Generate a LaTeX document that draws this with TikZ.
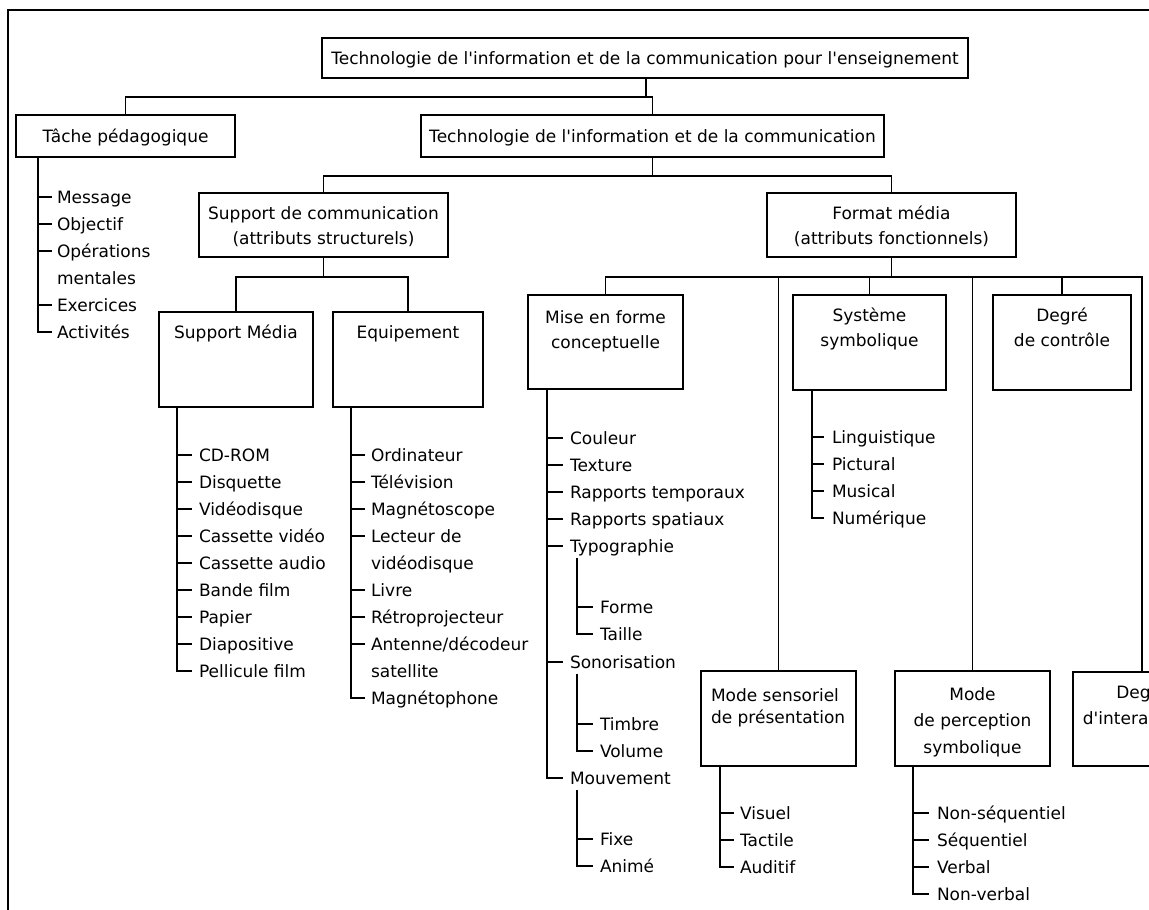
\documentclass[tikz,border=0pt]{standalone}
\usepackage{fontspec}
\setmainfont{DejaVu Sans}
\usetikzlibrary{calc}
\newcommand{\q}{\textquotesingle}
% centred box text: width, height, top gap, text
\newcommand{\bxc}[4]{\parbox[c][#2][t]{#1}{\centering\vspace*{#3}\rule{0pt}{14pt}#4\par}}
% left aligned box text: width, height, top gap, indent, text
\newcommand{\bxl}[5]{\parbox[c][#2][t]{#1}{\raggedright\leftskip=#4\vspace*{#3}\rule{0pt}{14pt}#5\par}}
\tikzset{
  box/.style={draw, line width=1.6pt, inner sep=0pt, outer sep=0pt, anchor=north west},
  item/.style={anchor=west, inner sep=0pt, outer sep=0pt, text height=12pt, text depth=0pt},
  link/.style={draw, line width=1.6pt},
  frame/.style={draw, line width=2.6pt}
}
\begin{document}
\begin{tikzpicture}[x=1pt,y=-1pt,font=\fontsize{17pt}{25pt}\selectfont]
\useasboundingbox (0,0) rectangle (1149,910);
\clip (0,0) rectangle (1149,910);
\fill[white] (0,0) rectangle (1149,910);
\draw[frame] (8,912) -- (8,10) -- (1152,10);

% ---------- boxes ----------
\node[box] (top) at (322,38) {\bxc{646pt}{40pt}{12pt}{Technologie de l\q information et de la communication pour l\q enseignement}};
\node[box] (tache) at (16,115) {\bxc{219pt}{42pt}{13pt}{Tâche pédagogique}};
\node[box] (tic) at (421,115) {\bxc{463pt}{42pt}{13pt}{Technologie de l\q information et de la communication}};
\node[box] (supcom) at (199,193) {\bxc{249pt}{64pt}{12pt}{Support de communication\\(attributs structurels)}};
\node[box] (format) at (767,193) {\bxc{249pt}{64pt}{12pt}{Format média\\(attributs fonctionnels)}};
\node[box] (supmed) at (159,312) {\bxc{154pt}{95pt}{12pt}{Support Média}};
\node[box] (equip) at (333,312) {\bxc{150pt}{95pt}{12pt}{Equipement}};
\node[box] (mise) at (528,295) {\bxc{155pt}{94pt}{14pt}{Mise en forme\\conceptuelle}};
\node[box] (syst) at (793,295) {\bxc{153pt}{95pt}{12pt}{Système\\symbolique}};
\node[box] (degctrl) at (993,295) {\bxc{138pt}{95pt}{12pt}{Degré\\de contrôle}};
\node[box] (modesens) at (701,671) {\bxl{155pt}{95pt}{16pt}{10pt}{\baselineskip=22pt Mode sensoriel\\de présentation}};
\node[box] (modeperc) at (895,671) {\bxc{155pt}{95pt}{15pt}{\baselineskip=26.5pt Mode\\de perception\\symbolique}};
\node[box] (deginter) at (1073,672) {\bxc{138pt}{94pt}{12pt}{\baselineskip=26pt Degré\\d\q interactivité}};

% ---------- tree connectors ----------
\coordinate (j1) at (646,97);
\coordinate (j2) at (0,176);
\coordinate (j3) at (0,277);
\draw[link] (j1 |- top.south) -- (j1);
\draw[link] (tache.north) |- (tic.north |- j1) -- (tic.north);
\draw[link] (tic.south) -- (tic.south |- j2);
\draw[link] (supcom.north) |- (format.north |- j2) -- (format.north);
\draw[link] (supcom.south) -- (supcom.south |- j3);
\draw[link] (supmed.north) |- (equip.north |- j3) -- (equip.north);
\draw[link] (format.south) -- (format.south |- j3);
\draw[link] (mise.north) |- (deginter.north |- j3) -- (deginter.north);
\draw[link] (modesens.north |- j3) -- (modesens.north);
\draw[link] (syst.north |- j3) -- (syst.north);
\draw[link] (modeperc.north |- j3) -- (modeperc.north);
\draw[link] (degctrl.north |- j3) -- (degctrl.north);

% ---------- Tâche pédagogique list ----------
\coordinate (sA) at (38,0);
\node[item] (a1) at (57,197) {Message};
\node[item] (a2) at (57,224) {Objectif};
\node[item] (a3) at (57,251) {Opérations};
\node[item] (a3b) at (57,278) {mentales};
\node[item] (a4) at (57,305) {Exercices};
\node[item] (a5) at (57,332) {Activités};
\draw[link] (sA |- tache.south) |- ([xshift=-5pt]a5.west);
\foreach \n in {a1,a2,a3,a4} \draw[link] (sA |- \n.west) -- ([xshift=-5pt]\n.west);

% ---------- Support Média list ----------
\coordinate (sB) at (177,0);
\foreach \t [count=\i] in {CD-ROM,Disquette,Vidéodisque,Cassette vidéo,Cassette audio,Bande film,Papier,Diapositive,Pellicule film}
  \node[item] (b\i) at (199,428+27*\i) {\t};
\draw[link] (sB |- supmed.south) |- ([xshift=-7pt]b9.west);
\foreach \i in {1,...,8} \draw[link] (sB |- b\i.west) -- ([xshift=-7pt]b\i.west);

% ---------- Equipement list ----------
\coordinate (sC) at (351,0);
\node[item] (c1) at (371,455) {Ordinateur};
\node[item] (c2) at (371,482) {Télévision};
\node[item] (c3) at (371,509) {Magnétoscope};
\node[item] (c4) at (371,536) {Lecteur de};
\node[item] (c4b) at (371,563) {vidéodisque};
\node[item] (c5) at (371,590) {Livre};
\node[item] (c6) at (371,617) {Rétroprojecteur};
\node[item] (c7) at (371,644) {Antenne/décodeur};
\node[item] (c7b) at (371,671) {satellite};
\node[item] (c8) at (371,698) {Magnétophone};
\draw[link] (sC |- equip.south) |- ([xshift=-6pt]c8.west);
\foreach \n in {c1,c2,c3,c4,c5,c6,c7} \draw[link] (sC |- \n.west) -- ([xshift=-6pt]\n.west);

% ---------- Mise en forme list ----------
\coordinate (sD) at (547,0);
\coordinate (sE) at (577,0);
\node[item] (d1) at (570,438) {Couleur};
\node[item] (d2) at (570,465) {Texture};
\node[item] (d3) at (570,492) {Rapports temporaux};
\node[item] (d4) at (570,519) {Rapports spatiaux};
\node[item] (d5) at (570,546) {Typographie};
\node[item] (d6) at (570,662) {Sonorisation};
\node[item] (d7) at (570,778) {Mouvement};
\draw[link] (sD |- mise.south) |- ([xshift=-7pt]d7.west);
\foreach \n in {d1,d2,d3,d4,d5,d6} \draw[link] (sD |- \n.west) -- ([xshift=-7pt]\n.west);
\node[item] (e1) at (600,607) {Forme};
\node[item] (e2) at (600,634) {Taille};
\node[item] (e3) at (600,724) {Timbre};
\node[item] (e4) at (600,751) {Volume};
\node[item] (e5) at (600,839) {Fixe};
\node[item] (e6) at (600,866) {Animé};
\draw[link] ($(sE |- d5.west)+(0,12)$) |- ([xshift=-7pt]e2.west);
\draw[link] (sE |- e1.west) -- ([xshift=-7pt]e1.west);
\draw[link] ($(sE |- d6.west)+(0,12)$) |- ([xshift=-7pt]e4.west);
\draw[link] (sE |- e3.west) -- ([xshift=-7pt]e3.west);
\draw[link] ($(sE |- d7.west)+(0,12)$) |- ([xshift=-7pt]e6.west);
\draw[link] (sE |- e5.west) -- ([xshift=-7pt]e5.west);

% ---------- Système symbolique list ----------
\coordinate (sF) at (812,0);
\node[item] (f1) at (832,437) {Linguistique};
\node[item] (f2) at (832,464) {Pictural};
\node[item] (f3) at (832,491) {Musical};
\node[item] (f4) at (832,518) {Numérique};
\draw[link] (sF |- syst.south) |- ([xshift=-8pt]f4.west);
\foreach \n in {f1,f2,f3} \draw[link] (sF |- \n.west) -- ([xshift=-8pt]\n.west);

% ---------- Mode sensoriel list ----------
\coordinate (sG) at (720,0);
\node[item] (g1) at (740,813) {Visuel};
\node[item] (g2) at (740,840) {Tactile};
\node[item] (g3) at (740,867) {Auditif};
\draw[link] (sG |- modesens.south) |- ([xshift=-6pt]g3.west);
\foreach \n in {g1,g2} \draw[link] (sG |- \n.west) -- ([xshift=-6pt]\n.west);

% ---------- Mode de perception list ----------
\coordinate (sH) at (913,0);
\node[item] (h1) at (937,813) {Non-séquentiel};
\node[item] (h2) at (937,840) {Séquentiel};
\node[item] (h3) at (937,867) {Verbal};
\node[item] (h4) at (937,894) {Non-verbal};
\draw[link] (sH |- modeperc.south) |- ([xshift=-8pt]h4.west);
\foreach \n in {h1,h2,h3} \draw[link] (sH |- \n.west) -- ([xshift=-8pt]\n.west);
\end{tikzpicture}
\end{document}
